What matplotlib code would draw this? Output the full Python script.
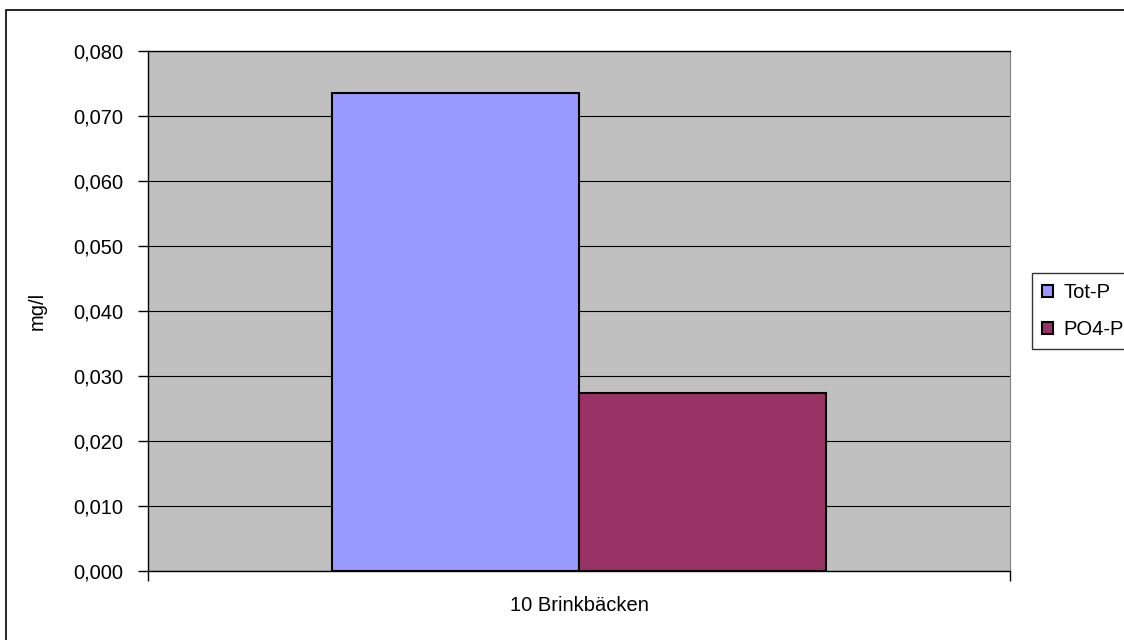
import matplotlib.pyplot as plt
from matplotlib.patches import Rectangle, Patch
from matplotlib.ticker import FuncFormatter

plt.rcParams["font.family"] = ["Liberation Sans", "DejaVu Sans"]

# Mätvärden fosfor
station = "10 Brinkbäcken"
serier = ["Tot-P", "PO4-P"]
varden = [0.0735, 0.0274]
farger = ["#9999FF", "#993366"]

fs = 14.5

fig = plt.figure(figsize=(11.24, 6.40), dpi=100)
ax = fig.add_axes([148 / 1124, 1 - 571 / 640, 862 / 1124, 520 / 640])
ax.set_facecolor("#C0C0C0")

# ram runt hela diagrammet
fig.patches.append(Rectangle((5.5 / 1124, -0.1), 1.2, 1 - 10.5 / 640 + 0.1,
                             transform=fig.transFigure, fill=False,
                             edgecolor="black", linewidth=1.2))

bredd = 247 / 862
start = 0.5 - bredd
for i, (namn, v, f) in enumerate(zip(serier, varden, farger)):
    ax.bar(start + i * bredd, v, width=bredd, align="edge", color=f,
           edgecolor="black", linewidth=1.5, label=namn, zorder=3)

ax.set_xlim(0, 1)
ax.set_ylim(0, 0.08)
ax.set_yticks([i * 0.01 for i in range(9)])
ax.yaxis.set_major_formatter(FuncFormatter(lambda y, p: f"{y:.3f}".replace(".", ",")))
ax.yaxis.grid(True, color="black", linewidth=0.8, zorder=1)
ax.set_axisbelow(True)

ax.set_xticks([0, 1])
ax.set_xticklabels(["", ""])
ax.text(0.5, -0.066, station, transform=ax.transAxes, ha="center", va="center",
        fontsize=fs)
ax.tick_params(axis="both", direction="out", length=7, width=1, labelsize=fs,
               colors="black")
ax.tick_params(axis="y", pad=11)

ax.set_ylabel("mg/l", fontsize=fs)
ax.yaxis.set_label_coords(-0.117, 0.5)

for s in ["left", "bottom", "top"]:
    ax.spines[s].set_color("black")
    ax.spines[s].set_linewidth(1)
ax.spines["right"].set_color("#808080")

handles = [Patch(facecolor=f, edgecolor="black", linewidth=1.5) for f in farger]
leg = fig.legend(handles, serier, loc="upper left",
                 bbox_to_anchor=(1032 / 1124, 1 - 273 / 640),
                 fontsize=fs, frameon=True, fancybox=False,
                 handlelength=0.55, handleheight=0.55, handletextpad=0.5,
                 borderpad=0.5, labelspacing=0.9, borderaxespad=0)
leg.get_frame().set_edgecolor("black")
leg.get_frame().set_linewidth(1)

fig.savefig("out.png", dpi=100)
